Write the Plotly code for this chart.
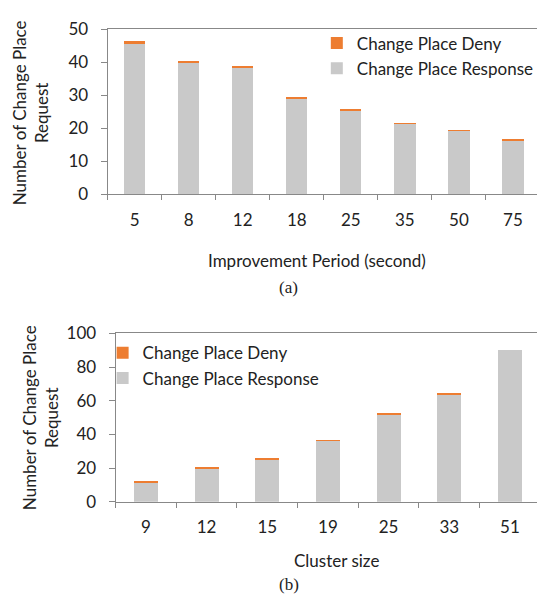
import plotly.graph_objects as go

# ---- data ----
period_labels = ["5", "8", "12", "18", "25", "35", "50", "75"]
period_response = [45.7, 39.7, 38.2, 28.9, 25.3, 21.3, 19.2, 16.3]
period_deny = [0.8, 0.5, 0.5, 0.2, 0.2, 0.2, 0.2, 0.2]

cluster_labels = ["9", "12", "15", "19", "25", "33", "51"]
cluster_response = [11.2, 19.3, 25.0, 36.0, 51.9, 63.3, 90.3]
cluster_deny = [0.7, 0.6, 0.6, 0.4, 0.9, 0.9, 0.0]

GRAY = "#C9C9C9"
ORANGE = "#ED7D31"
AX = "#888888"
FONT = "Lato"
FS = 17
W, H = 539, 602

fig = go.Figure()
fig.add_trace(go.Bar(x=period_labels, y=period_response, name="Change Place Response",
                     marker=dict(color=GRAY, line=dict(width=0)), xaxis="x", yaxis="y",
                     legend="legend"))
fig.add_trace(go.Bar(x=period_labels, y=period_deny, name="Change Place Deny",
                     marker=dict(color=ORANGE, line=dict(width=0)), xaxis="x", yaxis="y",
                     legend="legend"))
fig.add_trace(go.Bar(x=cluster_labels, y=cluster_response, name="Change Place Response",
                     marker=dict(color=GRAY, line=dict(width=0)), xaxis="x2", yaxis="y2",
                     legend="legend2"))
fig.add_trace(go.Bar(x=cluster_labels, y=cluster_deny, name="Change Place Deny",
                     marker=dict(color=ORANGE, line=dict(width=0)), xaxis="x2", yaxis="y2",
                     legend="legend2"))

def py(px):
    return 1 - px / H

def pxx(px):
    return px / W

TXT = dict(family=FONT, size=FS, color="#222")

xcommon = dict(type="category", showline=True, linecolor=AX, linewidth=1, mirror=True,
               ticks="outside", tickson="boundaries", ticklen=5, tickcolor=AX,
               showgrid=False, zeroline=False, tickfont=TXT,
               ticklabelstandoff=10, fixedrange=True)
ycommon = dict(showline=True, linecolor=AX, linewidth=1, ticks="outside", ticklen=6,
               tickcolor=AX, showgrid=False, zeroline=False,
               tickfont=TXT, ticklabelstandoff=9, fixedrange=True)

fig.update_layout(
    width=W, height=H,
    margin=dict(l=0, r=0, t=0, b=0),
    paper_bgcolor="white", plot_bgcolor="white",
    barmode="stack", bargap=0.605,
    font=TXT,
    xaxis=dict(domain=[pxx(108), 1], range=[-0.5, 7.445], anchor="y", **xcommon),
    yaxis=dict(domain=[py(190), py(19)], range=[0, 50], dtick=10, anchor="x", **ycommon),
    xaxis2=dict(domain=[pxx(116), 1], range=[-0.5, 6.446], anchor="y2", **xcommon),
    yaxis2=dict(domain=[py(508.5), py(334)], range=[0, 100], dtick=20, anchor="x2", **ycommon),
    legend=dict(x=pxx(318), y=py(15), xanchor="left", yanchor="top", traceorder="reversed",
                bgcolor="rgba(0,0,0,0)", tracegroupgap=0, font=TXT),
    legend2=dict(x=pxx(103), y=py(336), xanchor="left", yanchor="top", traceorder="reversed",
                 bgcolor="rgba(0,0,0,0)", tracegroupgap=0, font=TXT),
)

annotations = [
    dict(text="Number of Change Place<br>Request", x=pxx(30), y=py(105), textangle=-90, font=TXT),
    dict(text="Improvement Period (second)", x=pxx(318), y=py(258), font=TXT),
    dict(text="(a)", x=pxx(290), y=py(287),
         font=dict(family="Liberation Serif", size=17, color="#222")),
    dict(text="Number of Change Place<br>Request", x=pxx(40), y=py(421), textangle=-90, font=TXT),
    dict(text="Cluster size", x=pxx(338), y=py(569), font=TXT),
    dict(text="(b)", x=pxx(290), y=py(594),
         font=dict(family="Liberation Serif", size=17, color="#222")),
]
for a in annotations:
    fig.add_annotation(xref="paper", yref="paper", showarrow=False,
                       xanchor="center", yanchor="middle", **a)

fig.write_html("out.html",
               config={"displayModeBar": False},
               post_script="document.body.style.margin='0';document.body.style.overflow='hidden';")
